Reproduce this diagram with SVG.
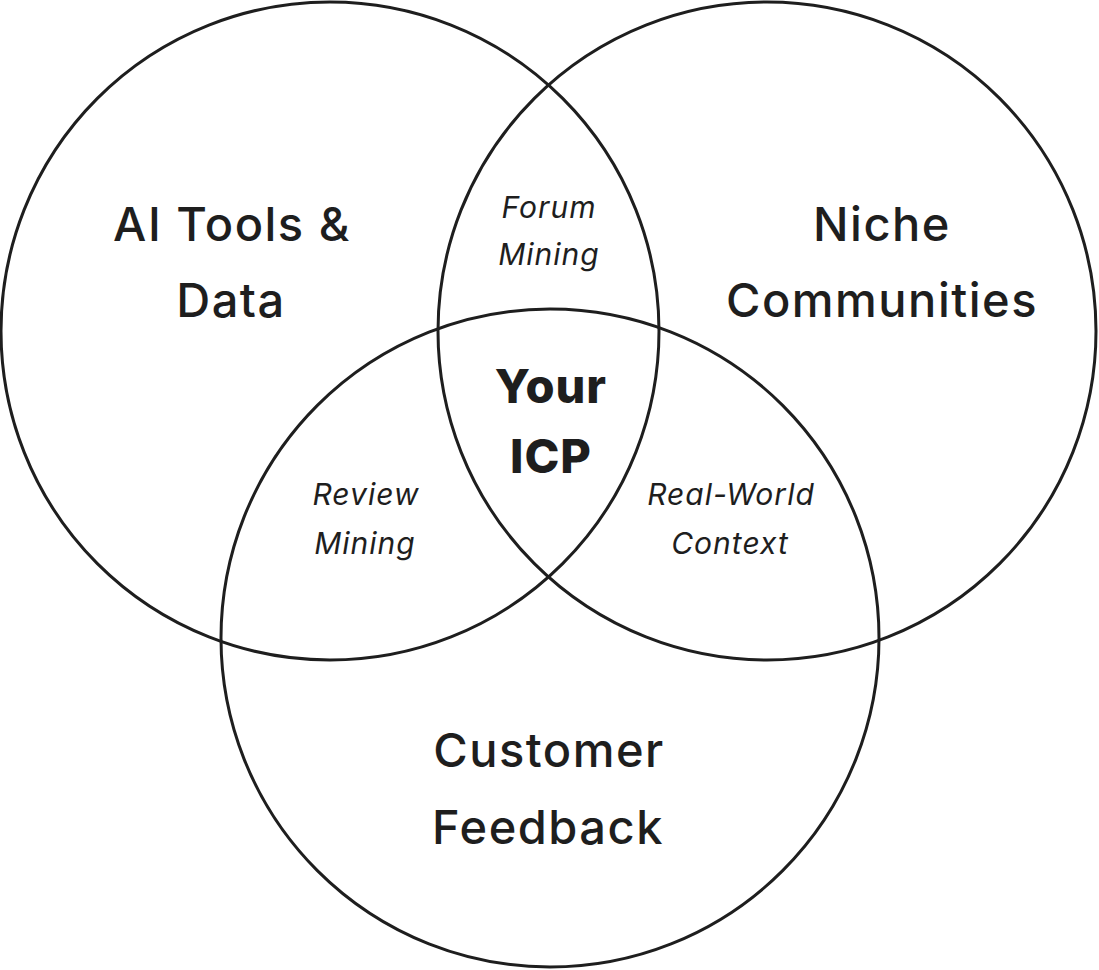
<svg xmlns="http://www.w3.org/2000/svg" width="1099" height="970" viewBox="0 0 1099 970">
<style>
.c{fill:none;stroke:#1e1e1e;stroke-width:3}
.t{font-family:Inter,"Open Sans",sans-serif;fill:#1e1e1e;text-anchor:middle}
.big{font-size:47px;font-weight:500;letter-spacing:1.5px}
.it{font-size:30px;font-style:italic;font-weight:400;letter-spacing:1px}
.b{font-size:47px;font-weight:800;letter-spacing:1px}
</style>
<rect width="1099" height="970" fill="#fff"/>
<g id="circles">
<circle id="c-ai" class="c" cx="330" cy="331" r="329"/>
<circle id="c-niche" class="c" cx="767" cy="331" r="329"/>
<circle id="c-cust" class="c" cx="550" cy="638" r="329"/>
</g>
<g id="label-ai" class="t big"><text x="232" y="241">AI Tools &amp;</text><text x="231" y="317">Data</text></g>
<g id="label-niche" class="t big"><text x="882" y="241">Niche</text><text x="882" y="317">Communities</text></g>
<g id="label-cust" class="t big"><text x="549" y="767">Customer</text><text x="548" y="844">Feedback</text></g>
<g id="label-forum" class="t it"><text x="549" y="218">Forum</text><text x="549" y="265">Mining</text></g>
<g id="label-review" class="t it"><text x="366" y="505">Review</text><text x="365" y="554">Mining</text></g>
<g id="label-real" class="t it"><text x="731" y="505">Real-World</text><text x="730" y="554">Context</text></g>
<g id="label-icp" class="t b"><text x="551" y="403">Your</text><text x="551" y="473">ICP</text></g>
</svg>
